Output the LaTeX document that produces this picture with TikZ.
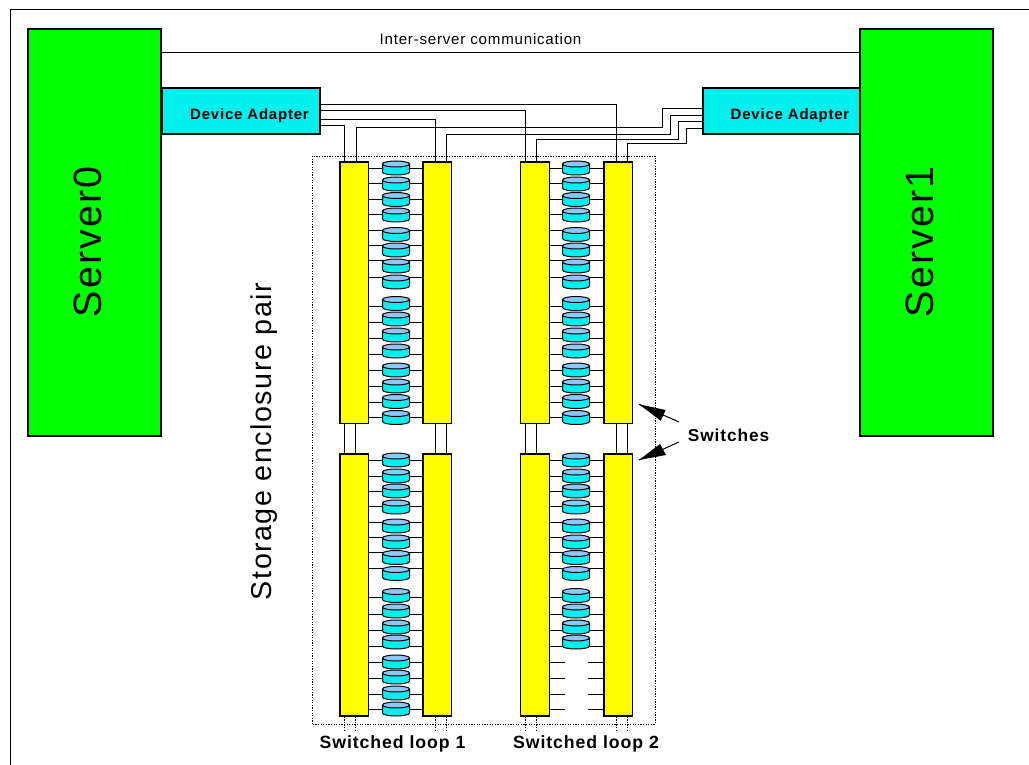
\documentclass[tikz,border=0pt]{standalone}
\usepackage{fontspec}
\setmainfont{Liberation Sans}
\definecolor{srv}{RGB}{0,255,0}
\definecolor{ada}{RGB}{0,240,240}
\definecolor{sw}{RGB}{255,255,0}
\definecolor{dtop}{RGB}{140,200,250}
\newcommand{\wide}[1]{{\addfontfeature{LetterSpace=5.2}#1}}
\tikzset{
 server/.style={draw=black,line width=1.2pt,fill=srv,minimum width=133pt,minimum height=407pt,inner sep=0pt},
 adapter/.style={draw=black,line width=1.2pt,fill=ada,inner sep=0pt,minimum height=46pt},
 switchbar/.style={draw=black,line width=1.2pt,fill=sw,inner sep=0pt,minimum width=28.5pt},
 wire/.style={draw=black,line width=1pt},
 dots/.style={draw=black,line width=0.7pt,dash pattern=on 1.3pt off 1.3pt},
 lbl/.style={font=\bfseries\fontsize{15}{18}\selectfont,inner sep=0pt},
 swlbl/.style={font=\bfseries\fontsize{17.3}{21}\selectfont,inner sep=0pt},
 looplbl/.style={font=\bfseries\fontsize{17.7}{22}\selectfont,inner sep=0pt},
 biglbl/.style={font=\fontsize{39.5}{48}\selectfont,inner sep=0pt,rotate=90},
}
\newcommand{\mydisk}[2]{%
 \path[draw=black,line width=1pt,fill=ada] (#1-13.5,#2-4) -- (#1-13.5,#2+4) arc[start angle=180,end angle=0,x radius=13.5,y radius=3] -- (#1+13.5,#2-4) -- cycle;
 \path[draw=black,line width=1pt,fill=dtop] (#1,#2-4) ellipse[x radius=13.5,y radius=3];
}
\begin{document}
\begin{tikzpicture}[x=1pt,y=-1pt]
\useasboundingbox (0,0) rectangle (1029,765);
\fill[white] (0,0) rectangle (1029,765);
\draw[line width=1pt] (10.5,765) -- (10.5,9.5) -- (1029,9.5);
% servers
\node[server] (s0) at (94.5,232.5) {};
\node[server] (s1) at (926.5,232.5) {};
\node[biglbl] (s0t) at (87.5,242) {\wide{Server0}};
\node[biglbl] (s1t) at (919.5,242) {\wide{Server1}};
\draw[wire] (s0.east |- 0,52.3) -- (s1.west |- 0,52.3);
\node[inner sep=0pt,font=\fontsize{15.1}{18}\selectfont] (ic) at (480.5,39.5) {\wide{Inter-server communication}};
% adapters
\node[adapter,minimum width=158pt] (da0) at (241,111) {};
\node[adapter,minimum width=157pt] (da1) at (781.5,111) {};
\node[lbl] (da0t) at (249.5,115.5) {\wide{Device Adapter}};
\node[lbl] (da1t) at (790,115.5) {\wide{Device Adapter}};
% dotted box
\node[dots,minimum width=342.5pt,minimum height=568pt,inner sep=0pt] (encl) at (484,440) {};
% bars
\foreach \n/\x in {a/354.2,b/437.3,c/535,d/618.3}{
 \node[switchbar,minimum height=261.7pt] (up\n) at (\x,292.9) {};
 \node[switchbar,minimum height=262pt] (lo\n) at (\x,585) {};
}
% cables
\draw[wire] (da0.east |- 0,104.7) -- (616.5,104.7) -- (616.5,0 |- upd.north);
\draw[wire] (da0.east |- 0,111) -- (525,111) -- (525,0 |- upc.north);
\draw[wire] (da0.east |- 0,119.7) -- (435.5,119.7) -- (435.5,0 |- upb.north);
\draw[wire] (da0.east |- 0,126) -- (344.7,126) -- (344.7,0 |- upa.north);
\draw[wire] (da1.west |- 0,109) -- (662.7,109) -- (662.7,128) -- (356,128) -- (356,0 |- upa.north);
\draw[wire] (da1.west |- 0,115.7) -- (670.7,115.7) -- (670.7,135) -- (446.5,135) -- (446.5,0 |- upb.north);
\draw[wire] (da1.west |- 0,121.7) -- (678,121.7) -- (678,140) -- (536,140) -- (536,0 |- upc.north);
\draw[wire] (da1.west |- 0,129) -- (686,129) -- (686,144) -- (627,144) -- (627,0 |- upd.north);
% vertical links and dashed tails
\foreach \x/\n in {344.7/a,355.7/a,435.3/b,446.3/b,525.2/c,536.2/c,616/d,627/d}{
 \draw[wire] (\x,0 |- up\n.south) -- (\x,0 |- lo\n.north);
 \draw[dots] (\x,0 |- lo\n.south) -- (\x,731);
}
% stubs first, disks on top
\foreach \w in {168.7,184,199.5,215,230.5,245,260.7,277,306.3,322,338.3,354,370.3,386,402.7,417.3,460,476,491.7,506.7,522,537,552.7,568.7,597.7,614,630,646}{
 \draw[wire] (upa.east |- 0,\w) -- (upb.west |- 0,\w);
 \draw[wire] (upc.east |- 0,\w) -- (upd.west |- 0,\w);
}
\foreach \w in {662,678,694,709}{
 \draw[wire] (loa.east |- 0,\w) -- (lob.west |- 0,\w);
 \draw[wire] (loc.east |- 0,\w) -- ++(15,0);
 \draw[wire] (lod.west |- 0,\w) -- ++(-15,0);
}
\foreach \y in {168,184,199.5,215,234.5,250,266,282,303.5,319,335,351,370,386,401.5,417.5,460,476,491,507,526,542,557.5,573.5,595.5,611,627,642}{
 \mydisk{396}{\y}
 \mydisk{576}{\y}
}
\foreach \y in {662,677,693,709}{
 \mydisk{396}{\y}
}
% labels
\node[inner sep=0pt,font=\fontsize{28.7}{36}\selectfont,rotate=90] (sep) at (264,441.5) {\wide{Storage enclosure pair}};
\node[swlbl] (sw) at (728.5,435.5) {\wide{Switches}};
\node[looplbl] (l1) at (392.5,743.5) {\wide{Switched loop 1}};
\node[looplbl] (l2) at (586,743.5) {\wide{Switched loop 2}};
\coordinate (a1) at (639,404.3);
\coordinate (a2) at (639,460);
\coordinate (e1) at (679,422);
\coordinate (e2) at (679,442);
\draw[line width=1pt] (e1) -- (a1);
\draw[line width=1pt] (e2) -- (a2);
\fill (a1) -- (665.7,410) -- (660.7,420.7) -- cycle;
\fill (a2) -- (666,455) -- (660,444) -- cycle;
\end{tikzpicture}
\end{document}
